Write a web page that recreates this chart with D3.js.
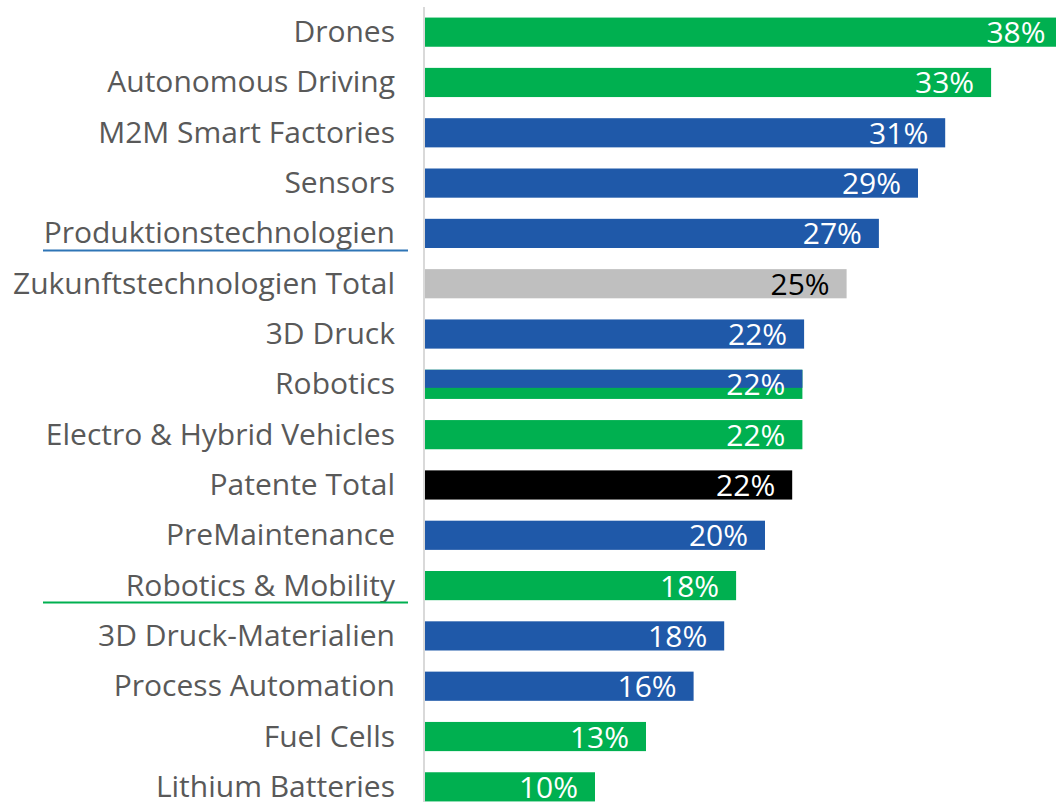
<!DOCTYPE html>
<html><head><meta charset="utf-8">
<script src="https://cdn.jsdelivr.net/npm/d3@7"></script>
<style>body{margin:0;background:#fff}svg{display:block}</style>
</head><body>
<script>
const categories = ["Drones","Autonomous Driving","M2M Smart Factories","Sensors","Produktionstechnologien","Zukunftstechnologien Total","3D Druck","Robotics","Electro & Hybrid Vehicles","Patente Total","PreMaintenance","Robotics & Mobility","3D Druck-Materialien","Process Automation","Fuel Cells","Lithium Batteries"];
const values = [37.5,33.3,30.6,29.0,26.7,24.8,22.3,22.2,22.2,21.6,20.0,18.3,17.6,15.8,13.0,10.0];
const labels = ["38%","33%","31%","29%","27%","25%","22%","22%","22%","22%","20%","18%","18%","16%","13%","10%"];
const groups = ["mobility","mobility","production","production","production","total","production","split","mobility","patent","production","mobility","production","production","mobility","mobility"];
const underlined = {"Produktionstechnologien":"#2E75B6","Robotics & Mobility":"#00B050"};

const W=1056,H=802;
const GREEN="#00B050",BLUE="#1F59A9",GRAY="#BFBFBF",BLACK="#000000";
const fill={mobility:GREEN,production:BLUE,total:GRAY,patent:BLACK};

const svg=d3.select("body").append("svg").attr("width",W).attr("height",H);
const x=d3.scaleLinear().domain([0,10]).range([425,595]);
const y=d3.scaleBand().domain(categories).range([7,812]).paddingInner(0.42).paddingOuter(0.21);

const bh=y.bandwidth();
const g=svg.append("g");
categories.forEach((c,i)=>{
  const y0=y(c), v=values[i], grp=groups[i];
  if(grp==="split"){
    g.append("rect").attr("x",x(0)).attr("y",y0).attr("width",x(v)-x(0)).attr("height",bh).attr("fill",GREEN);
    g.append("rect").attr("x",x(0)).attr("y",y0).attr("width",x(v)-x(0)).attr("height",bh*0.62).attr("fill",BLUE);
  } else {
    g.append("rect").attr("x",x(0)).attr("y",y0).attr("width",x(v)-x(0)).attr("height",bh).attr("fill",fill[grp]);
  }
  g.append("text").attr("x",x(v)-17).attr("y",y0+bh/2+11)
   .attr("text-anchor","end").attr("font-family","'Open Sans', sans-serif").attr("font-size",30)
   .attr("fill",grp==="total"?"#000":"#fff").text(labels[i]);
});

// axis line
svg.append("line").attr("x1",424).attr("x2",424).attr("y1",7).attr("y2",H).attr("stroke","#D9D9D9").attr("stroke-width",2);

const lab=svg.append("g");
categories.forEach((c)=>{
  const cy=y(c)+bh/2;
  lab.append("text").attr("x",395).attr("y",cy+10).attr("text-anchor","end")
   .attr("font-family","'Open Sans', sans-serif").attr("font-size",30).attr("fill","#595959").text(c);
  if(underlined[c]){
    lab.append("line").attr("x1",43).attr("x2",408).attr("y1",cy+17).attr("y2",cy+17).attr("stroke",underlined[c]).attr("stroke-width",2);
  }
});
</script>
</body></html>
